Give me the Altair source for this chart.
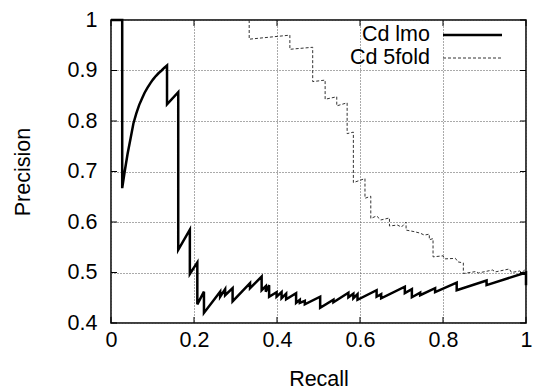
import altair as alt
import pandas as pd

# ---- data ----
lmo_recall = [0.0, 0.027, 0.027, 0.033, 0.040, 0.047, 0.054, 0.061, 0.068, 0.075, 0.081, 0.088,
              0.095, 0.101, 0.108, 0.115, 0.122, 0.128, 0.135, 0.135, 0.162, 0.162, 0.190, 0.190,
              0.208, 0.208, 0.224, 0.224, 0.263, 0.263, 0.275, 0.275, 0.293, 0.293, 0.335, 0.335,
              0.363, 0.363, 0.373, 0.373, 0.381, 0.381, 0.399, 0.399, 0.411, 0.411, 0.422, 0.422,
              0.446, 0.446, 0.455, 0.455, 0.467, 0.467, 0.504, 0.504, 0.536, 0.536, 0.572, 0.572,
              0.584, 0.584, 0.594, 0.594, 0.640, 0.640, 0.651, 0.651, 0.708, 0.708, 0.725, 0.725,
              0.745, 0.745, 0.781, 0.781, 0.833, 0.833, 0.905, 0.905, 1.0, 1.0]
lmo_precision = [1.0, 1.0, 0.667, 0.70, 0.735, 0.765, 0.795, 0.815, 0.832, 0.845, 0.856, 0.866,
                 0.875, 0.882, 0.889, 0.895, 0.900, 0.905, 0.910, 0.833, 0.857, 0.545, 0.585, 0.497,
                 0.520, 0.437, 0.462, 0.420, 0.462, 0.452, 0.467, 0.455, 0.469, 0.443, 0.479, 0.469,
                 0.492, 0.465, 0.473, 0.462, 0.475, 0.452, 0.461, 0.452, 0.461, 0.449, 0.458, 0.447,
                 0.459, 0.440, 0.446, 0.440, 0.444, 0.437, 0.452, 0.430, 0.446, 0.441, 0.460, 0.451,
                 0.458, 0.449, 0.457, 0.446, 0.465, 0.452, 0.457, 0.449, 0.472, 0.459, 0.467, 0.451,
                 0.460, 0.455, 0.469, 0.461, 0.480, 0.465, 0.484, 0.475, 0.500, 0.475]

fold_recall = [0.333, 0.333, 0.431, 0.431, 0.486, 0.486, 0.516, 0.516, 0.544, 0.544, 0.569, 0.569,
               0.584, 0.584, 0.612, 0.612, 0.626, 0.626, 0.640, 0.650, 0.671, 0.671, 0.690, 0.700,
               0.711, 0.711, 0.730, 0.745, 0.755, 0.767, 0.767, 0.776, 0.776, 0.800, 0.805, 0.830,
               0.836, 0.849, 0.849, 0.880, 0.885, 0.920, 0.925, 0.960, 0.965, 0.985, 0.990, 0.997]
fold_precision = [1.0, 0.962, 0.970, 0.942, 0.946, 0.878, 0.881, 0.843, 0.848, 0.830, 0.836, 0.775,
                  0.778, 0.678, 0.686, 0.647, 0.651, 0.607, 0.612, 0.604, 0.608, 0.592, 0.594, 0.590,
                  0.600, 0.584, 0.581, 0.578, 0.574, 0.576, 0.565, 0.567, 0.531, 0.533, 0.527, 0.528,
                  0.521, 0.519, 0.498, 0.502, 0.499, 0.505, 0.501, 0.507, 0.500, 0.503, 0.500, 0.505]

x_ticks = [0, 0.2, 0.4, 0.6, 0.8, 1]
y_ticks = [0.4, 0.5, 0.6, 0.7, 0.8, 0.9, 1]
series_names = ["Cd lmo", "Cd 5fold"]

FONT = "Liberation Sans"
FS = 21.5
W, H = 415, 303

lmo = pd.DataFrame({"recall": lmo_recall, "precision": lmo_precision,
                    "i": range(len(lmo_recall))})
fold = pd.DataFrame({"recall": fold_recall, "precision": fold_precision,
                     "i": range(len(fold_recall))})
xt = pd.DataFrame({"v": x_ticks})
yt = pd.DataFrame({"v": y_ticks})
one = pd.DataFrame({"k": [0]})

xs = alt.Scale(domain=[0, 1], nice=False, zero=False)
ys = alt.Scale(domain=[0.4, 1], nice=False, zero=False)

x_axis = alt.Axis(values=x_ticks, format="~g", labelPadding=6, labelFlush=False,
                  labelOverlap=False, title="Recall", titleY=62,
                  titleBaseline="alphabetic")
y_axis = alt.Axis(values=y_ticks, format="~g", labelPadding=14, labelFlush=False,
                  labelOverlap=False, title="Precision", titleX=-82, titleY=H / 2,
                  titleBaseline="alphabetic")

fold_line = alt.Chart(fold).mark_line(
    color="#333333", strokeWidth=1, strokeDash=[3, 2], interpolate="linear"
).encode(
    x=alt.X("recall:Q", scale=xs, axis=x_axis),
    y=alt.Y("precision:Q", scale=ys, axis=y_axis),
    order="i:Q",
)

lmo_line = alt.Chart(lmo).mark_line(
    color="black", strokeWidth=2.5, interpolate="linear", strokeJoin="miter"
).encode(
    x=alt.X("recall:Q", scale=xs),
    y=alt.Y("precision:Q", scale=ys),
    order="i:Q",
)

# inward tick marks (gnuplot style) on all four borders
tb = alt.Chart(xt).mark_rule(color="black", strokeWidth=1).encode(
    x=alt.X("v:Q", scale=xs), y=alt.value(H), y2=alt.value(H - 6))
tt = alt.Chart(xt).mark_rule(color="black", strokeWidth=1).encode(
    x=alt.X("v:Q", scale=xs), y=alt.value(0), y2=alt.value(6))
tl = alt.Chart(yt).mark_rule(color="black", strokeWidth=1).encode(
    y=alt.Y("v:Q", scale=ys), x=alt.value(0), x2=alt.value(6))
tr = alt.Chart(yt).mark_rule(color="black", strokeWidth=1).encode(
    y=alt.Y("v:Q", scale=ys), x=alt.value(W), x2=alt.value(W - 6))

# gnuplot-style key (labels right-aligned, line sample to the right)
key_t1 = alt.Chart(one).mark_text(
    text=series_names[0], font=FONT, fontSize=FS, align="right", baseline="middle",
    color="black"
).encode(x=alt.value(319), y=alt.value(15))
key_t2 = alt.Chart(one).mark_text(
    text=series_names[1], font=FONT, fontSize=FS, align="right", baseline="middle",
    color="black"
).encode(x=alt.value(319), y=alt.value(38))
key_l1 = alt.Chart(one).mark_rule(color="black", strokeWidth=2.5).encode(
    x=alt.value(332), x2=alt.value(391), y=alt.value(15))
key_l2 = alt.Chart(one).mark_rule(color="#333333", strokeWidth=1, strokeDash=[3, 2]).encode(
    x=alt.value(332), x2=alt.value(391), y=alt.value(38))

chart = alt.layer(
    fold_line, lmo_line, tb, tt, tl, tr, key_t1, key_t2, key_l1, key_l2
).properties(
    width=W, height=H,
    autosize=alt.AutoSizeParams(type="none"),
    padding={"left": 111, "top": 20, "right": 10, "bottom": 66},
    background="white",
).configure_view(
    stroke="black", strokeWidth=1.5
).configure_axis(
    grid=True, gridColor="#555555", gridDash=[1, 2], gridWidth=1,
    domain=False, ticks=False,
    labelFont=FONT, labelFontSize=FS, labelColor="black",
    titleFont=FONT, titleFontSize=FS, titleFontWeight="normal", titleColor="black",
)

chart.save("out.html", embed_options={"renderer": "svg", "actions": False})
